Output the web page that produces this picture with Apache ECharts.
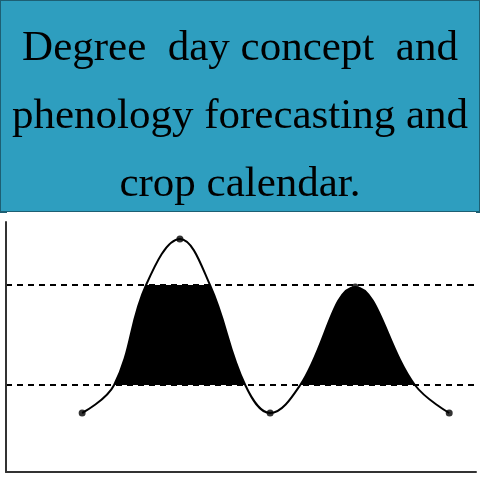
<!DOCTYPE html>
<html>
<head>
<meta charset="UTF-8">
<style>
  html, body { margin: 0; padding: 0; background: #fff; }
  #chart { width: 480px; height: 480px; }
</style>
</head>
<body>
<div id="chart"></div>
<script src="https://cdn.jsdelivr.net/npm/echarts@6/dist/echarts.min.js"></script>
<script>
// 曲线数据（x: 时间, y: 温度）
const curveX = [16.2, 23, 29.8, 37, 43.4, 50.9, 56.2, 62.6, 74.3, 87, 94.3];
const curveY = [23.6, 34.8, 74.8, 93.2, 74.8, 34.8, 23.6, 34.8, 74, 34.8, 23.6];
const markedX = [16.2, 37, 56.2, 74.3, 94.3];
const markedY = [23.6, 93.2, 23.6, 74, 23.6];
const upperBase = 74.8;
const lowerBase = 34.8;
const titleText = 'Degree  day concept  and\nphenology forecasting and\ncrop calendar.';

const chart = echarts.init(document.getElementById('chart'));
const curve = curveX.map((x, i) => [x, curveY[i]]);
const marked = markedX.map((x, i) => [x, markedY[i]]);

chart.setOption({
  animation: false,
  title: {
    text: titleText, left: 'center', top: 10,
    textStyle: { fontFamily: 'Liberation Serif', fontWeight: 'normal', fontSize: 43, lineHeight: 68, color: '#000' }
  },
  grid: { left: 6, right: 4, top: 222, bottom: 8 },
  xAxis: { type: 'value', min: 0, max: 100, z: 10, axisLine: { lineStyle: { color: '#333', width: 2 } },
           axisTick: { show: false }, axisLabel: { show: false }, splitLine: { show: false } },
  yAxis: { type: 'value', min: 0, max: 100, z: 10, axisLine: { show: true, lineStyle: { color: '#333', width: 2 } },
           axisTick: { show: false }, axisLabel: { show: false }, splitLine: { show: false } },
  series: [
    { type: 'line', data: curve, smooth: 0.4, symbol: 'none', z: 1,
      lineStyle: { width: 0 }, areaStyle: { color: '#000', opacity: 1 } },
    { type: 'line', data: curve, smooth: 0.4, symbol: 'none', z: 3,
      lineStyle: { color: '#000', width: 2 } },
    { type: 'scatter', data: marked, symbolSize: 7, z: 4, itemStyle: { color: '#000' },
      markLine: { silent: true, symbol: 'none', label: { show: false },
        lineStyle: { color: '#000', type: [6, 5], width: 2 },
        data: [{ yAxis: upperBase }, { yAxis: lowerBase }] } }
  ]
});

// 遮住阈值以外的填充
const pUp = chart.convertToPixel({ gridIndex: 0 }, [0, upperBase]);
const pLow = chart.convertToPixel({ gridIndex: 0 }, [0, lowerBase]);
const pMin = chart.convertToPixel({ gridIndex: 0 }, [100, 0]);
chart.setOption({
  graphic: [
    { type: 'rect', z: -10, shape: { x: 0, y: 0, width: 480, height: 212 },
      style: { fill: '#2e9ebf', stroke: '#1d5f73', lineWidth: 2 } },
    { type: 'rect', z: 2, shape: { x: pUp[0] + 1, y: 212, width: pMin[0] - pUp[0] - 1, height: pUp[1] - 212 }, style: { fill: '#fff' } },
    { type: 'rect', z: 2, shape: { x: pLow[0] + 1, y: pLow[1], width: pMin[0] - pLow[0] - 1, height: pMin[1] - pLow[1] + 2 }, style: { fill: '#fff' } }
  ]
});
</script>
</body>
</html>
